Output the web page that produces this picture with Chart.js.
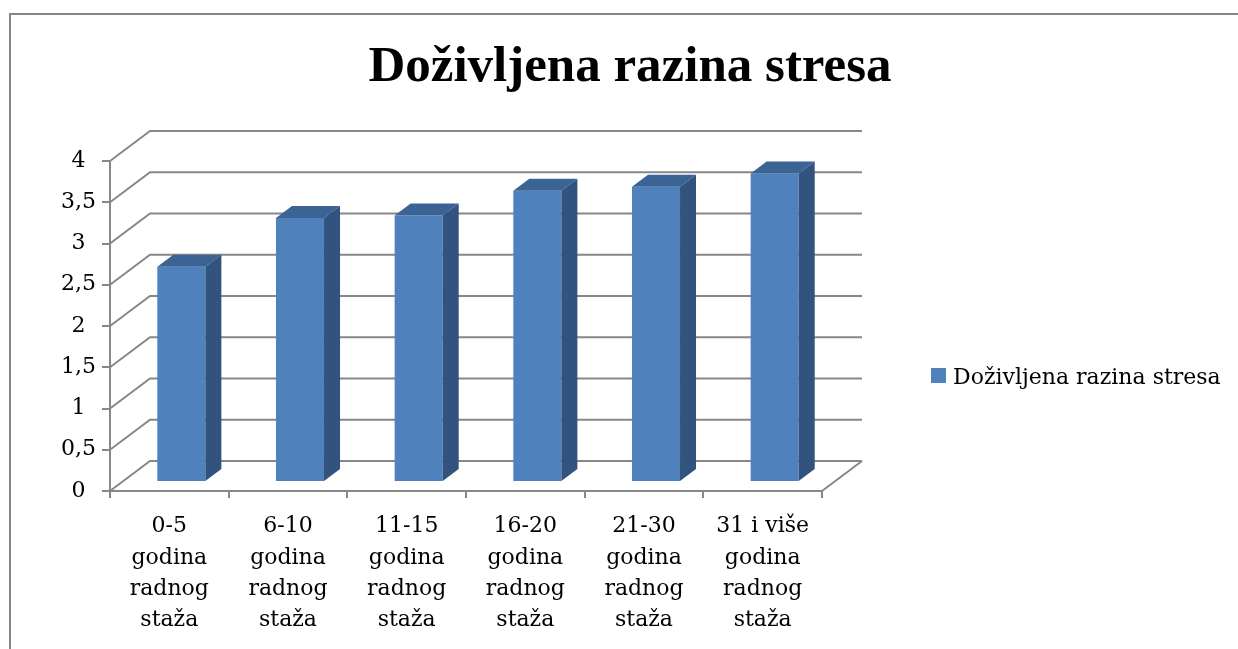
<!DOCTYPE html>
<html>
<head>
<meta charset="utf-8">
<title>Doživljena razina stresa</title>
<script src="https://cdn.jsdelivr.net/npm/chart.js@4/dist/chart.umd.min.js"></script>
<style>
    body { margin: 0; background: #fff; }
    #wrap { width: 1238px; height: 649px; }
</style>
</head>
<body>
<div id="wrap">
    <canvas id="myChart" width="1238" height="649"></canvas>
</div>
<script>
// podaci
const kategorije = [
    ['0-5', 'godina', 'radnog', 'staža'],
    ['6-10', 'godina', 'radnog', 'staža'],
    ['11-15', 'godina', 'radnog', 'staža'],
    ['16-20', 'godina', 'radnog', 'staža'],
    ['21-30', 'godina', 'radnog', 'staža'],
    ['31 i više', 'godina', 'radnog', 'staža']
];
const razinaStresa = [2.61, 3.2, 3.23, 3.53, 3.58, 3.74];
const naslov = 'Doživljena razina stresa';
const nazivSerije = 'Doživljena razina stresa';

const siva = '#878787';
const plava = '#4f81bd';
const plavaVrh = '#3b6393';
const plavaBok = '#31537d';

// dubina "3D" prikaza
const dubX = 40, dubY = -30;     // zidovi
const stupX = 16, stupY = -12;   // dubina stupca
const pomX = (dubX - stupX) / 2, pomY = (dubY - stupY) / 2;

Chart.defaults.font.family = '"DejaVu Serif", serif';
Chart.defaults.font.size = 22;
Chart.defaults.color = '#000';

const excel3d = {
    id: 'excel3d',
    beforeDraw(chart) {
        const ctx = chart.ctx;
        ctx.save();
        // okvir grafikona
        ctx.strokeStyle = '#868686';
        ctx.lineWidth = 2;
        ctx.beginPath();
        ctx.moveTo(10, 649);
        ctx.lineTo(10, 14);
        ctx.lineTo(1238, 14);
        ctx.stroke();
        // naslov
        ctx.fillStyle = '#000';
        ctx.font = 'bold 51px "Liberation Serif", serif';
        ctx.textAlign = 'center';
        ctx.textBaseline = 'alphabetic';
        ctx.fillText(naslov, 630, 81);
        // legenda
        ctx.fillStyle = plava;
        ctx.fillRect(931, 368, 15, 15);
        ctx.fillStyle = '#000';
        ctx.font = '22px "DejaVu Serif", serif';
        ctx.textAlign = 'left';
        ctx.fillText(nazivSerije, 953, 384);
        ctx.restore();
    },
    beforeDatasetsDraw(chart) {
        const ctx = chart.ctx;
        const y = chart.scales.y;
        const a = chart.chartArea;
        ctx.save();
        ctx.strokeStyle = siva;
        ctx.lineWidth = 2;
        ctx.beginPath();
        y.ticks.forEach(t => {
            const py = y.getPixelForValue(t.value);
            // bocni zid
            ctx.moveTo(a.left, py);
            ctx.lineTo(a.left + dubX, py + dubY);
            // straznji zid
            ctx.lineTo(a.right + dubX, py + dubY);
        });
        // pod, desni rub
        ctx.moveTo(a.right, a.bottom);
        ctx.lineTo(a.right + dubX, a.bottom + dubY);
        ctx.stroke();
        ctx.restore();
        // stupci se crtaju malo "unutra"
        ctx.save();
        ctx.translate(pomX, pomY);
    },
    afterDatasetsDraw(chart) {
        const ctx = chart.ctx;
        const meta = chart.getDatasetMeta(0);
        meta.data.forEach(bar => {
            const l = bar.x - bar.width / 2;
            const r = bar.x + bar.width / 2;
            ctx.fillStyle = plavaVrh;
            ctx.beginPath();
            ctx.moveTo(l, bar.y);
            ctx.lineTo(r, bar.y);
            ctx.lineTo(r + stupX, bar.y + stupY);
            ctx.lineTo(l + stupX, bar.y + stupY);
            ctx.closePath();
            ctx.fill();
            ctx.fillStyle = plavaBok;
            ctx.beginPath();
            ctx.moveTo(r, bar.y);
            ctx.lineTo(r + stupX, bar.y + stupY);
            ctx.lineTo(r + stupX, bar.base + stupY);
            ctx.lineTo(r, bar.base);
            ctx.closePath();
            ctx.fill();
        });
        ctx.restore();
    }
};

new Chart(document.getElementById('myChart'), {
    type: 'bar',
    data: {
        labels: kategorije,
        datasets: [{
            label: nazivSerije,
            data: razinaStresa,
            backgroundColor: plava,
            borderWidth: 0,
            barPercentage: 0.405,
            categoryPercentage: 1
        }]
    },
    options: {
        responsive: false,
        animation: false,
        layout: { padding: { left: 0, top: 161, right: 416, bottom: 0 } },
        plugins: {
            legend: { display: false },
            title: { display: false },
            tooltip: { enabled: false }
        },
        scales: {
            x: {
                afterFit(s) { s.height = 158; },
                grid: { drawOnChartArea: false, tickLength: 7, color: siva, lineWidth: 2, offset: true },
                border: { color: siva, width: 2 },
                ticks: { padding: 13, maxRotation: 0, autoSkip: false, font: { size: 22, lineHeight: 1.42 } }
            },
            y: {
                min: 0,
                max: 4,
                afterFit(s) { s.width = 110; },
                grid: { drawOnChartArea: false, tickLength: 8, color: siva, lineWidth: 2 },
                border: { color: siva, width: 2 },
                ticks: {
                    stepSize: 0.5,
                    padding: 6,
                    crossAlign: 'center',
                    font: { size: 22 },
                    callback: v => String(v).replace('.', ',')
                }
            }
        }
    },
    plugins: [excel3d]
});
</script>
</body>
</html>
